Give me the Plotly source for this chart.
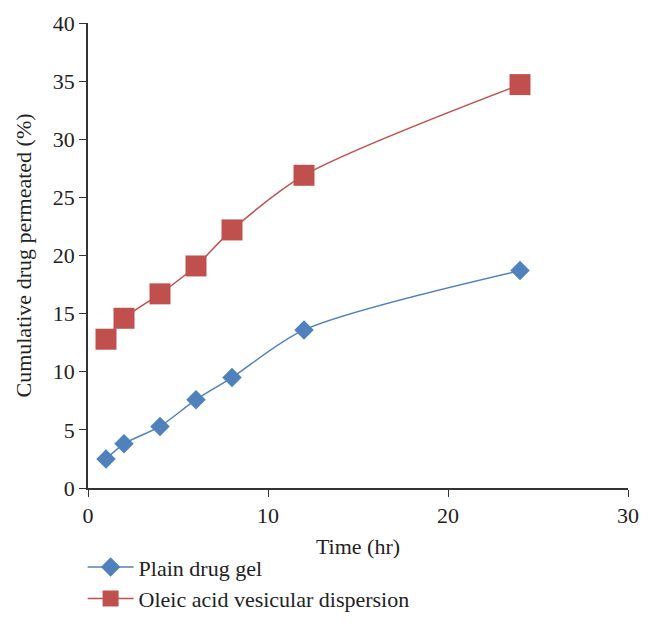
import plotly.graph_objects as go

# 데이터
time_hr = [1, 2, 4, 6, 8, 12, 24]
plain_gel = [2.5, 3.8, 5.3, 7.6, 9.5, 13.6, 18.7]
oleic_vesicular = [12.8, 14.6, 16.7, 19.1, 22.2, 26.9, 34.7]

x_ticks = [0, 10, 20, 30]
y_ticks = [0, 5, 10, 15, 20, 25, 30, 35, 40]

FONT = "Liberation Serif"

fig = go.Figure()

fig.add_trace(go.Scatter(
    x=time_hr, y=plain_gel,
    mode='lines+markers',
    name='Plain drug gel',
    line=dict(color='#4F81BD', width=1.5, shape='spline', smoothing=0.8),
    marker=dict(symbol='diamond', size=15, color='#4F81BD')
))

fig.add_trace(go.Scatter(
    x=time_hr, y=oleic_vesicular,
    mode='lines+markers',
    name='Oleic acid vesicular dispersion',
    line=dict(color='#C0504D', width=1.5, shape='spline', smoothing=0.8),
    marker=dict(symbol='square', size=21, color='#C0504D')
))

# 페이지 body 여백(8px)을 고려한 레이아웃
fig.update_layout(
    width=653,
    height=642,
    margin=dict(l=80, r=33, t=15, b=162, autoexpand=False),
    plot_bgcolor='white',
    paper_bgcolor='white',
    font=dict(family=FONT, size=22, color='#222222'),
    showlegend=True,
    legend=dict(
        x=-0.01, y=-0.125,
        xanchor='left', yanchor='top',
        font=dict(family=FONT, size=22, color='#222222'),
        itemwidth=46,
        tracegroupgap=0,
        bgcolor='rgba(0,0,0,0)'
    )
)

fig.update_xaxes(
    range=[0, 30],
    tickvals=x_ticks,
    showgrid=False,
    zeroline=False,
    showline=True,
    linecolor='#333333',
    linewidth=1.5,
    ticks='outside',
    ticklen=7,
    tickcolor='#333333',
    title=dict(text='Time (hr)', font=dict(size=22), standoff=11)
)

fig.update_yaxes(
    range=[0, 40],
    tickvals=y_ticks,
    showgrid=False,
    zeroline=False,
    showline=True,
    linecolor='#333333',
    linewidth=1.5,
    ticks='outside',
    ticklen=7,
    tickcolor='#333333',
    title=dict(text='Cumulative drug permeated (%)', font=dict(size=22), standoff=15)
)

fig.write_html("out.html")
